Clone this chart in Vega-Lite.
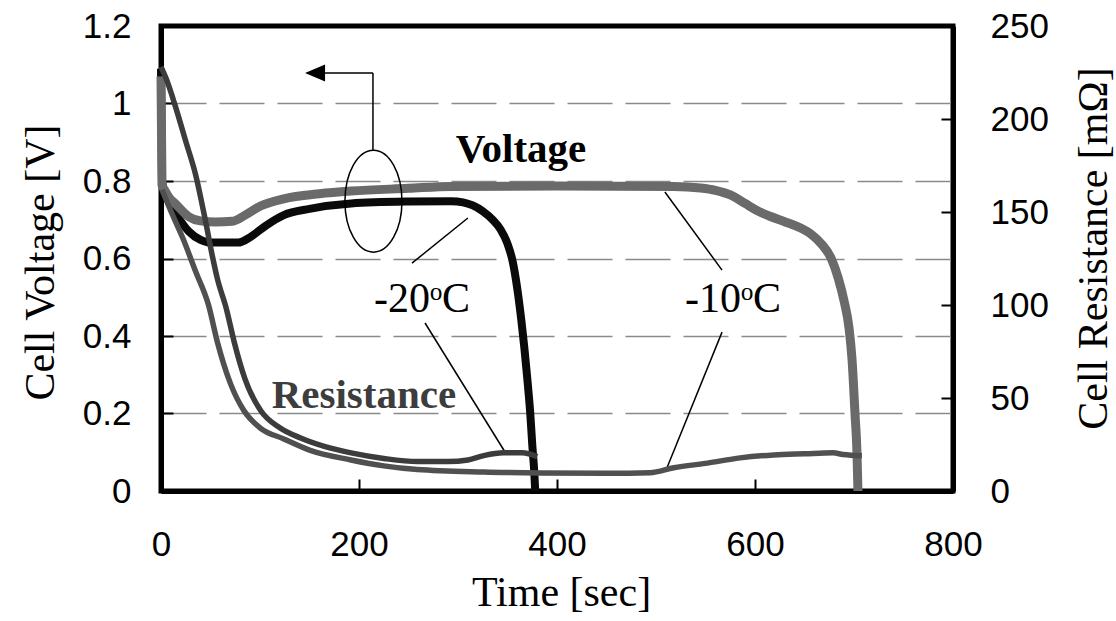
{
  "$schema": "https://vega.github.io/schema/vega-lite/v6.json",
  "width": 792,
  "height": 465,
  "autosize": {"type": "none"},
  "padding": {"left": 161, "top": 26, "right": 163, "bottom": 130},
  "background": "white",
  "config": {
    "view": {"stroke": "black", "strokeWidth": 5},
    "axis": {"labelFont": "Liberation Sans", "titleFont": "Liberation Serif", "labelColor": "black", "titleColor": "black", "labelFontSize": 35, "titleFontSize": 42, "titleFontWeight": "normal", "labelFlush": false, "labelOverlap": false}
  },
  "datasets": {
    "volt": [
      {"s": "-20", "t": 0, "v": 1.09}, {"s": "-20", "t": 1, "v": 0.8}, {"s": "-20", "t": 4, "v": 0.77}, {"s": "-20", "t": 8, "v": 0.745}, {"s": "-20", "t": 15, "v": 0.715}, {"s": "-20", "t": 28, "v": 0.67}, {"s": "-20", "t": 40, "v": 0.648}, {"s": "-20", "t": 50, "v": 0.641}, {"s": "-20", "t": 78, "v": 0.641}, {"s": "-20", "t": 90, "v": 0.655}, {"s": "-20", "t": 106, "v": 0.685}, {"s": "-20", "t": 124, "v": 0.712}, {"s": "-20", "t": 150, "v": 0.728}, {"s": "-20", "t": 192, "v": 0.742}, {"s": "-20", "t": 250, "v": 0.747}, {"s": "-20", "t": 293, "v": 0.748}, {"s": "-20", "t": 305, "v": 0.745}, {"s": "-20", "t": 315, "v": 0.737}, {"s": "-20", "t": 325, "v": 0.722}, {"s": "-20", "t": 335, "v": 0.7}, {"s": "-20", "t": 343, "v": 0.675}, {"s": "-20", "t": 350, "v": 0.638}, {"s": "-20", "t": 355, "v": 0.595}, {"s": "-20", "t": 360, "v": 0.52}, {"s": "-20", "t": 364, "v": 0.44}, {"s": "-20", "t": 367, "v": 0.37}, {"s": "-20", "t": 370, "v": 0.29}, {"s": "-20", "t": 373, "v": 0.2}, {"s": "-20", "t": 375, "v": 0.12}, {"s": "-20", "t": 377, "v": 0.05}, {"s": "-20", "t": 378, "v": 0.0},
      {"s": "-10", "t": 0, "v": 1.07}, {"s": "-10", "t": 1, "v": 0.79}, {"s": "-10", "t": 4, "v": 0.775}, {"s": "-10", "t": 8, "v": 0.758}, {"s": "-10", "t": 15, "v": 0.74}, {"s": "-10", "t": 28, "v": 0.708}, {"s": "-10", "t": 40, "v": 0.697}, {"s": "-10", "t": 55, "v": 0.694}, {"s": "-10", "t": 72, "v": 0.696}, {"s": "-10", "t": 85, "v": 0.712}, {"s": "-10", "t": 100, "v": 0.735}, {"s": "-10", "t": 124, "v": 0.754}, {"s": "-10", "t": 160, "v": 0.767}, {"s": "-10", "t": 192, "v": 0.774}, {"s": "-10", "t": 250, "v": 0.781}, {"s": "-10", "t": 293, "v": 0.786}, {"s": "-10", "t": 400, "v": 0.787}, {"s": "-10", "t": 518, "v": 0.786}, {"s": "-10", "t": 545, "v": 0.782}, {"s": "-10", "t": 560, "v": 0.776}, {"s": "-10", "t": 575, "v": 0.764}, {"s": "-10", "t": 590, "v": 0.742}, {"s": "-10", "t": 602, "v": 0.724}, {"s": "-10", "t": 615, "v": 0.709}, {"s": "-10", "t": 630, "v": 0.695}, {"s": "-10", "t": 645, "v": 0.68}, {"s": "-10", "t": 657, "v": 0.662}, {"s": "-10", "t": 667, "v": 0.638}, {"s": "-10", "t": 677, "v": 0.6}, {"s": "-10", "t": 684, "v": 0.55}, {"s": "-10", "t": 690, "v": 0.49}, {"s": "-10", "t": 695, "v": 0.42}, {"s": "-10", "t": 698, "v": 0.34}, {"s": "-10", "t": 701, "v": 0.2}, {"s": "-10", "t": 703, "v": 0.1}, {"s": "-10", "t": 704, "v": 0.0}
    ],
    "res": [
      {"s": "-20", "t": 0, "r": 228}, {"s": "-20", "t": 5, "r": 222}, {"s": "-20", "t": 15, "r": 206}, {"s": "-20", "t": 25, "r": 188}, {"s": "-20", "t": 35, "r": 170}, {"s": "-20", "t": 45, "r": 145}, {"s": "-20", "t": 52, "r": 126}, {"s": "-20", "t": 57, "r": 114}, {"s": "-20", "t": 66, "r": 98}, {"s": "-20", "t": 74, "r": 80}, {"s": "-20", "t": 85, "r": 60}, {"s": "-20", "t": 101, "r": 43}, {"s": "-20", "t": 120, "r": 34}, {"s": "-20", "t": 141, "r": 28.5}, {"s": "-20", "t": 165, "r": 24}, {"s": "-20", "t": 192, "r": 20.5}, {"s": "-20", "t": 225, "r": 17.5}, {"s": "-20", "t": 259, "r": 15.8}, {"s": "-20", "t": 290, "r": 15.8}, {"s": "-20", "t": 310, "r": 16.7}, {"s": "-20", "t": 326, "r": 19}, {"s": "-20", "t": 346, "r": 20.5}, {"s": "-20", "t": 365, "r": 20.5}, {"s": "-20", "t": 380, "r": 18.5},
      {"s": "-10", "t": 1, "r": 162}, {"s": "-10", "t": 12, "r": 148}, {"s": "-10", "t": 22, "r": 136}, {"s": "-10", "t": 35, "r": 118}, {"s": "-10", "t": 48, "r": 100}, {"s": "-10", "t": 57, "r": 80}, {"s": "-10", "t": 70, "r": 58}, {"s": "-10", "t": 84, "r": 43}, {"s": "-10", "t": 100, "r": 34}, {"s": "-10", "t": 124, "r": 28}, {"s": "-10", "t": 150, "r": 22}, {"s": "-10", "t": 192, "r": 16.7}, {"s": "-10", "t": 225, "r": 13.5}, {"s": "-10", "t": 259, "r": 11.5}, {"s": "-10", "t": 326, "r": 10.2}, {"s": "-10", "t": 385, "r": 9.7}, {"s": "-10", "t": 450, "r": 9.5}, {"s": "-10", "t": 494, "r": 9.8}, {"s": "-10", "t": 518, "r": 12.5}, {"s": "-10", "t": 552, "r": 15}, {"s": "-10", "t": 585, "r": 17.8}, {"s": "-10", "t": 619, "r": 19.4}, {"s": "-10", "t": 650, "r": 20}, {"s": "-10", "t": 679, "r": 20.5}, {"s": "-10", "t": 689, "r": 19.6}, {"s": "-10", "t": 708, "r": 19}
    ],
    "notes": [
      {"kind": "boldv", "label": "Voltage", "t": 363.6, "v": 0.849},
      {"kind": "boldr", "label": "Resistance", "t": 205, "v": 0.214},
      {"kind": "temp", "label": "-20ᵒC", "t": 263.6, "v": 0.462},
      {"kind": "temp", "label": "-10ᵒC", "t": 577.8, "v": 0.462}
    ],
    "leaders": [
      {"t": 310, "v": 0.7045, "t2": 253.5, "v2": 0.588},
      {"t": 266.7, "v": 0.4335, "t2": 347.5, "v2": 0.1006},
      {"t": 509, "v": 0.7716, "t2": 566.7, "v2": 0.57},
      {"t": 566.7, "v": 0.41, "t2": 511, "v2": 0.0594},
      {"t": 214.1, "v": 0.88, "t2": 214.1, "v2": 1.0787},
      {"t": 214.1, "v": 1.0787, "t2": 165.7, "v2": 1.0787}
    ],
    "ellipse": [{"t": 214.6, "v": 0.748}],
    "arrowhead": [{"t": 155.6, "v": 1.0787}]
  },
  "layer": [
    {
      "layer": [
        {
          "data": {"name": "volt"},
          "transform": [{"filter": "datum.s == '-20'"}],
          "mark": {"type": "line", "color": "#0a0a0a", "strokeWidth": 8, "interpolate": "monotone", "strokeJoin": "round"},
          "encoding": {
            "x": {"field": "t", "type": "quantitative", "scale": {"domain": [0, 800], "nice": false},
              "axis": {"values": [0, 200, 400, 600, 800], "format": "d", "domain": true, "domainColor": "black", "domainWidth": 5, "tickSize": -12, "tickColor": "black", "tickWidth": 2, "labelPadding": 48, "grid": false, "title": "Time [sec]", "titleX": 400, "titleY": 101, "titleAlign": "center", "titleBaseline": "middle"}},
            "y": {"field": "v", "type": "quantitative", "scale": {"domain": [0, 1.2], "nice": false},
              "axis": {"orient": "left", "values": [0, 0.2, 0.4, 0.6, 0.8, 1, 1.2], "format": "~g", "domain": true, "domainColor": "black", "domainWidth": 5, "tickSize": -12, "tickColor": "black", "tickWidth": 2, "labelPadding": 42, "grid": true, "gridColor": "#8a8a8a", "gridWidth": 1.5, "gridDash": [45, 13], "gridOpacity": {"condition": {"test": "datum.value == 0 || datum.value == 1.2", "value": 0}, "value": 1}, "title": "Cell Voltage [V]", "titleAngle": 270, "titleX": -121, "titleY": 236, "titleAlign": "center", "titleBaseline": "middle"}}
          }
        },
        {
          "data": {"name": "volt"},
          "transform": [{"filter": "datum.s == '-10'"}],
          "mark": {"type": "line", "color": "#6a6a6a", "strokeWidth": 9, "interpolate": "monotone", "strokeJoin": "round"},
          "encoding": {
            "x": {"field": "t", "type": "quantitative", "scale": {"domain": [0, 800], "nice": false}},
            "y": {"field": "v", "type": "quantitative", "scale": {"domain": [0, 1.2], "nice": false}}
          }
        },
        {
          "data": {"name": "leaders"},
          "mark": {"type": "rule", "color": "black", "strokeWidth": 1.5},
          "encoding": {
            "x": {"field": "t", "type": "quantitative", "scale": {"domain": [0, 800], "nice": false}},
            "y": {"field": "v", "type": "quantitative", "scale": {"domain": [0, 1.2], "nice": false}},
            "x2": {"field": "t2"},
            "y2": {"field": "v2"}
          }
        },
        {
          "data": {"name": "ellipse"},
          "mark": {"type": "point", "shape": "M 0.559 0 C 0.559 0.5523, 0.3087 1, 0 1 C -0.3087 1, -0.559 0.5523, -0.559 0 C -0.559 -0.5523, -0.3087 -1, 0 -1 C 0.3087 -1, 0.559 -0.5523, 0.559 0 Z", "size": 10404, "filled": false, "stroke": "black", "strokeWidth": 1.5, "opacity": 1},
          "encoding": {
            "x": {"field": "t", "type": "quantitative", "scale": {"domain": [0, 800], "nice": false}},
            "y": {"field": "v", "type": "quantitative", "scale": {"domain": [0, 1.2], "nice": false}}
          }
        },
        {
          "data": {"name": "arrowhead"},
          "mark": {"type": "point", "shape": "M -1 0 L 1 -0.85 L 1 0.85 Z", "size": 400, "filled": true, "fill": "black", "stroke": null, "opacity": 1},
          "encoding": {
            "x": {"field": "t", "type": "quantitative", "scale": {"domain": [0, 800], "nice": false}},
            "y": {"field": "v", "type": "quantitative", "scale": {"domain": [0, 1.2], "nice": false}}
          }
        },
        {
          "data": {"name": "notes"},
          "transform": [{"filter": "datum.kind == 'boldv'"}],
          "mark": {"type": "text", "font": "Liberation Serif", "fontWeight": "bold", "fontSize": 41, "color": "black", "align": "center", "baseline": "alphabetic"},
          "encoding": {
            "x": {"field": "t", "type": "quantitative", "scale": {"domain": [0, 800], "nice": false}},
            "y": {"field": "v", "type": "quantitative", "scale": {"domain": [0, 1.2], "nice": false}},
            "text": {"field": "label"}
          }
        },
        {
          "data": {"name": "notes"},
          "transform": [{"filter": "datum.kind == 'boldr'"}],
          "mark": {"type": "text", "font": "Liberation Serif", "fontWeight": "bold", "fontSize": 41, "color": "#3d3d3d", "align": "center", "baseline": "alphabetic"},
          "encoding": {
            "x": {"field": "t", "type": "quantitative", "scale": {"domain": [0, 800], "nice": false}},
            "y": {"field": "v", "type": "quantitative", "scale": {"domain": [0, 1.2], "nice": false}},
            "text": {"field": "label"}
          }
        },
        {
          "data": {"name": "notes"},
          "transform": [{"filter": "datum.kind == 'temp'"}],
          "mark": {"type": "text", "font": "Liberation Serif", "fontSize": 42, "color": "black", "align": "center", "baseline": "alphabetic"},
          "encoding": {
            "x": {"field": "t", "type": "quantitative", "scale": {"domain": [0, 800], "nice": false}},
            "y": {"field": "v", "type": "quantitative", "scale": {"domain": [0, 1.2], "nice": false}},
            "text": {"field": "label"}
          }
        }
      ]
    },
    {
      "layer": [
        {
          "data": {"name": "res"},
          "transform": [{"filter": "datum.s == '-20'"}],
          "mark": {"type": "line", "color": "#3c3c3c", "strokeWidth": 5.5, "interpolate": "monotone", "strokeJoin": "round"},
          "encoding": {
            "x": {"field": "t", "type": "quantitative", "scale": {"domain": [0, 800], "nice": false}},
            "y": {"field": "r", "type": "quantitative", "scale": {"domain": [0, 250], "nice": false},
              "axis": {"orient": "right", "values": [0, 50, 100, 150, 200, 250], "format": "d", "domain": true, "domainColor": "black", "domainWidth": 5, "tickSize": -12, "tickColor": "black", "tickWidth": 2, "labelPadding": 49, "grid": false, "title": "Cell Resistance [mΩ]", "titleAngle": 270, "titleX": 140, "titleY": 222, "titleAlign": "center", "titleBaseline": "middle"}}
          }
        },
        {
          "data": {"name": "res"},
          "transform": [{"filter": "datum.s == '-10'"}],
          "mark": {"type": "line", "color": "#505050", "strokeWidth": 5.5, "interpolate": "monotone", "strokeJoin": "round"},
          "encoding": {
            "x": {"field": "t", "type": "quantitative", "scale": {"domain": [0, 800], "nice": false}},
            "y": {"field": "r", "type": "quantitative", "scale": {"domain": [0, 250], "nice": false}}
          }
        }
      ]
    }
  ],
  "resolve": {"scale": {"y": "independent"}}
}
